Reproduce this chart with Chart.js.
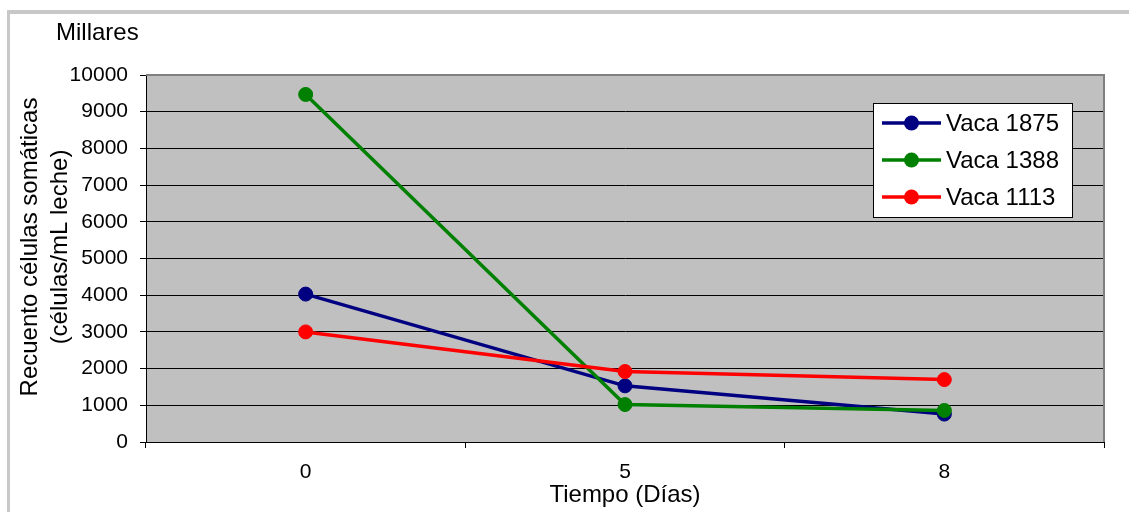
<!DOCTYPE html>
<html>
<head>
<meta charset="utf-8">
<script src="https://cdn.jsdelivr.net/npm/chart.js@4/dist/chart.umd.min.js"></script>
<style>
  html, body { margin: 0; padding: 0; background: #fff; overflow: hidden; }
  #wrap { position: relative; width: 1129px; height: 512px; }
  #frame { position: absolute; left: 7px; top: 10px; width: 1200px; height: 600px;
           border-left: 3px solid #c8c8c8; border-top: 4px solid #c8c8c8; }
  canvas { position: absolute; left: 0; top: 0; }
</style>
</head>
<body>
<div id="wrap">
  <div id="frame"></div>
  <canvas id="c" width="1129" height="512"></canvas>
</div>
<script>
// Días de muestreo
const categories = ['0', '5', '8'];
// Recuento de células somáticas (miles de células/mL)
const vaca1875 = [4030, 1530, 760];
const vaca1388 = [9470, 1020, 860];
const vaca1113 = [3000, 1920, 1700];

const seriesNames = ['Vaca 1875', 'Vaca 1388', 'Vaca 1113'];
const seriesColors = ['#000080', '#008000', '#FF0000'];

const yMin = 0, yMax = 10000, yStep = 1000;
const unitLabel = 'Millares';
const yTitleLines = ['Recuento células somáticas', '(células/mL leche)'];
const xTitle = 'Tiempo (Días)';

const FONT = "'Liberation Sans', Arial, sans-serif";

// later series are painted over earlier ones
function makeDataset(label, data, color, order) {
  return {
    label, data, order,
    borderColor: color, backgroundColor: color,
    pointBackgroundColor: color, pointBorderColor: color,
    borderWidth: 3.5, pointRadius: 7, pointBorderWidth: 1,
    pointHoverRadius: 7, tension: 0, fill: false
  };
}

const decor = {
  id: 'decor',
  beforeDraw(chart) {
    const { ctx, chartArea: a } = chart;
    ctx.save();
    ctx.fillStyle = '#C0C0C0';
    ctx.fillRect(a.left, a.top, a.right - a.left, a.bottom - a.top);
    ctx.restore();
  },
  afterDatasetsDraw(chart) {
    const { ctx, chartArea: a } = chart;
    ctx.save();
    // top and right edges of the plot area
    ctx.strokeStyle = '#808080';
    ctx.lineWidth = 2;
    ctx.beginPath();
    ctx.moveTo(a.left, a.top);
    ctx.lineTo(a.right, a.top);
    ctx.lineTo(a.right, a.bottom);
    ctx.stroke();

    // unit label above the value axis
    ctx.fillStyle = '#000';
    ctx.font = '24px ' + FONT;
    ctx.textBaseline = 'middle';
    ctx.textAlign = 'left';
    ctx.fillText(unitLabel, 56, 33);

    // value axis title, two lines rotated
    ctx.save();
    ctx.translate(30, 247);
    ctx.rotate(-Math.PI / 2);
    ctx.textAlign = 'center';
    ctx.fillText(yTitleLines[0], 0, 0);
    ctx.fillText(yTitleLines[1], 0, 30);
    ctx.restore();

    // legend box
    const lx = 873, ly = 103, lw = 199, lh = 114;
    ctx.fillStyle = '#fff';
    ctx.fillRect(lx, ly, lw, lh);
    ctx.strokeStyle = '#000';
    ctx.lineWidth = 1;
    ctx.strokeRect(lx + 0.5, ly + 0.5, lw, lh);
    const rows = [123, 160, 197];
    chart.data.datasets.forEach((ds, i) => {
      const y = rows[i];
      ctx.strokeStyle = ds.borderColor;
      ctx.lineWidth = 3.5;
      ctx.beginPath();
      ctx.moveTo(882, y);
      ctx.lineTo(941, y);
      ctx.stroke();
      ctx.fillStyle = ds.borderColor;
      ctx.beginPath();
      ctx.arc(911.5, y, 7.5, 0, Math.PI * 2);
      ctx.fill();
      ctx.fillStyle = '#000';
      ctx.font = '24px ' + FONT;
      ctx.textAlign = 'left';
      ctx.textBaseline = 'middle';
      ctx.fillText(ds.label, 946, y + 1);
    });
    ctx.restore();
  }
};

new Chart(document.getElementById('c'), {
  type: 'line',
  data: {
    labels: categories,
    datasets: [
      makeDataset(seriesNames[0], vaca1875, seriesColors[0], 3),
      makeDataset(seriesNames[1], vaca1388, seriesColors[1], 2),
      makeDataset(seriesNames[2], vaca1113, seriesColors[2], 1)
    ]
  },
  options: {
    responsive: false,
    animation: false,
    devicePixelRatio: 1,
    layout: { padding: { left: 0, top: 75, right: 25, bottom: 0 } },
    plugins: { legend: { display: false }, tooltip: { enabled: false } },
    scales: {
      x: {
        type: 'category',
        offset: true,
        grid: { offset: true, drawOnChartArea: false, drawTicks: true, tickLength: 6, color: '#000', lineWidth: 1 },
        border: { color: '#000', width: 1 },
        ticks: { color: '#000', font: { family: FONT, size: 21 }, padding: 12, maxRotation: 0 },
        title: { display: true, text: xTitle, color: '#000', font: { family: FONT, size: 24 }, padding: { top: 0, bottom: 2 } },
        afterFit(scale) { scale.height = 70; }
      },
      y: {
        min: yMin, max: yMax,
        grid: {
          color: (c) => (c.tick && c.tick.value === yMax ? 'rgba(0,0,0,0)' : '#000'),
          tickColor: '#000',
          lineWidth: 1, tickLength: 6, drawTicks: true
        },
        border: { color: '#000', width: 1 },
        ticks: {
          stepSize: yStep, color: '#000', font: { family: FONT, size: 21 }, padding: 12,
          callback: (v) => String(v)
        },
        afterFit(scale) { scale.width = 146; }
      }
    }
  },
  plugins: [decor]
});
</script>
</body>
</html>
